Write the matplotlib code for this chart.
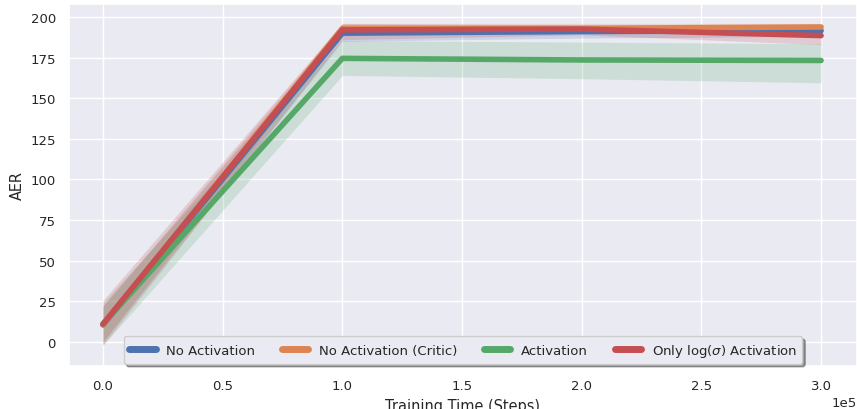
import numpy as np
import matplotlib
matplotlib.use("Agg")
import matplotlib.pyplot as plt
import seaborn as sns

sns.set_theme(style="darkgrid", font_scale=0.87)
plt.rcParams['font.family'] = ['DejaVu Sans']

steps = [0, 100000, 200000, 300000]
labels = ["No Activation", "No Activation (Critic)", "Activation", r"Only log($\sigma$) Activation"]
means = {
    "No Activation": [10.5, 190.0, 191.0, 191.5],
    "No Activation (Critic)": [10.5, 193.0, 193.0, 193.8],
    "Activation": [11.0, 174.5, 173.5, 173.2],
    r"Only log($\sigma$) Activation": [11.0, 192.0, 192.5, 188.5],
}
lows = {
    "No Activation": [0.0, 185.0, 187.0, 188.0],
    "No Activation (Critic)": [0.0, 190.0, 190.0, 191.0],
    "Activation": [-2.0, 164.0, 162.0, 159.5],
    r"Only log($\sigma$) Activation": [-2.0, 186.0, 189.0, 183.0],
}
highs = {
    "No Activation": [22.0, 194.0, 194.0, 194.5],
    "No Activation (Critic)": [22.0, 196.0, 196.0, 196.0],
    "Activation": [24.0, 185.5, 184.5, 183.5],
    r"Only log($\sigma$) Activation": [25.5, 196.0, 195.0, 194.0],
}

colors = sns.color_palette("deep")
col_idx = [0, 1, 2, 3]

fig, ax = plt.subplots(figsize=(8.57, 4.10), dpi=100)
for lab, ci in zip(labels, col_idx):
    c = colors[ci]
    ax.fill_between(steps, lows[lab], highs[lab], color=c, alpha=0.2, linewidth=0)
    ax.plot(steps, means[lab], color=c, linewidth=4, label=lab, solid_capstyle='round')

ax.set_xlabel("Training Time (Steps)")
ax.set_ylabel("AER")
ax.set_xlim(-14200, 315000)
ax.set_ylim(-14.8, 208)
ax.set_yticks([0, 25, 50, 75, 100, 125, 150, 175, 200])
ax.ticklabel_format(axis='x', style='sci', scilimits=(0, 0))
leg = ax.legend(loc="lower center", ncol=4, frameon=True, shadow=True, fancybox=True,
                bbox_to_anchor=(0.5, 0.0), borderaxespad=0.15)
for l in leg.get_lines():
    l.set_linewidth(5)
fig.subplots_adjust(left=0.0805, right=1.0, top=0.988, bottom=0.105)
fig.savefig("out.png", dpi=100)
